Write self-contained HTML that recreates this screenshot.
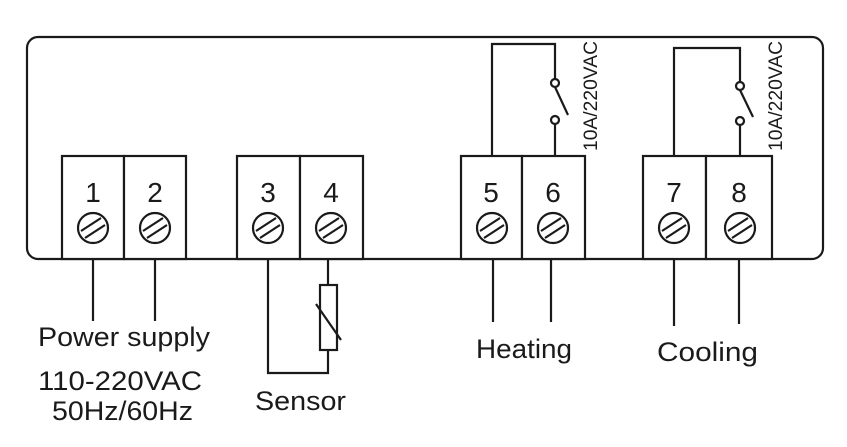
<!DOCTYPE html>
<html><head><style>body{margin:0;background:#fff}svg{display:block}</style></head><body>
<svg width="847" height="447" viewBox="0 0 847 447" xmlns="http://www.w3.org/2000/svg" font-family="Liberation Sans, sans-serif" fill="none" stroke="#1a1a1a" stroke-width="2.2">
<rect x="27" y="37" width="796" height="222" rx="11"/>
<g fill="#fff">
<rect x="62" y="156" width="62" height="103"/><rect x="124" y="156" width="62" height="103"/>
<rect x="237" y="156" width="63" height="103"/><rect x="300" y="156" width="63" height="103"/>
<rect x="461" y="156" width="61" height="103"/><rect x="522" y="156" width="63" height="103"/>
<rect x="643" y="156" width="63" height="103"/><rect x="706" y="156" width="66" height="103"/>
</g>
<g font-size="28" fill="#1a1a1a" stroke="none" text-anchor="middle">
<text x="93" y="202">1</text><text x="155" y="202">2</text>
<text x="268" y="202">3</text><text x="331" y="202">4</text>
<text x="491" y="202">5</text><text x="553" y="202">6</text>
<text x="674" y="202">7</text><text x="739" y="202">8</text>
</g>
<g>
<g transform="translate(93,228)"><circle r="15"/><path d="M-12 3 L8 -10 M-8 10 L12 -3"/></g>
<g transform="translate(155,228)"><circle r="15"/><path d="M-12 3 L8 -10 M-8 10 L12 -3"/></g>
<g transform="translate(268,228)"><circle r="15"/><path d="M-12 3 L8 -10 M-8 10 L12 -3"/></g>
<g transform="translate(331,228)"><circle r="15"/><path d="M-12 3 L8 -10 M-8 10 L12 -3"/></g>
<g transform="translate(492,228)"><circle r="15"/><path d="M-12 3 L8 -10 M-8 10 L12 -3"/></g>
<g transform="translate(553,228)"><circle r="15"/><path d="M-12 3 L8 -10 M-8 10 L12 -3"/></g>
<g transform="translate(674,228)"><circle r="15"/><path d="M-12 3 L8 -10 M-8 10 L12 -3"/></g>
<g transform="translate(740,228)"><circle r="15"/><path d="M-12 3 L8 -10 M-8 10 L12 -3"/></g>
</g>
<path d="M492 156 V44 H555 V79 M555 124 V156 M555 87 L568 115"/>
<circle cx="555" cy="83" r="4" fill="#fff"/><circle cx="555" cy="120" r="4" fill="#fff"/>
<path d="M674 156 V48 H740 V82 M740 125 V156 M740 90 L753 117"/>
<circle cx="740" cy="86" r="4" fill="#fff"/><circle cx="740" cy="121" r="4" fill="#fff"/>
<g font-size="19" fill="#1a1a1a" stroke="none">
<text transform="translate(597,151) rotate(-90)" textLength="110" lengthAdjust="spacingAndGlyphs">10A/220VAC</text>
<text transform="translate(782,151) rotate(-90)" textLength="110" lengthAdjust="spacingAndGlyphs">10A/220VAC</text>
</g>
<path d="M93 259 V321 M155 259 V321 M493 259 V322 M551 259 V322 M674 259 V326 M739 259 V324"/>
<path d="M268 259 V373 H328 V350 M328 259 V285"/>
<rect x="320" y="285" width="17" height="65"/>
<path d="M316 304 L341 340"/>
<g font-size="27" fill="#1a1a1a" stroke="none">
<text x="38" y="346" textLength="172" lengthAdjust="spacingAndGlyphs">Power supply</text>
<text x="38" y="390" textLength="164" lengthAdjust="spacingAndGlyphs">110-220VAC</text>
<text x="52" y="420" textLength="141" lengthAdjust="spacingAndGlyphs">50Hz/60Hz</text>
<text x="255" y="410" textLength="91" lengthAdjust="spacingAndGlyphs">Sensor</text>
<text x="476" y="358" textLength="96" lengthAdjust="spacingAndGlyphs">Heating</text>
<text x="657" y="361" textLength="101" lengthAdjust="spacingAndGlyphs">Cooling</text>
</g>
</svg>
</body></html>
